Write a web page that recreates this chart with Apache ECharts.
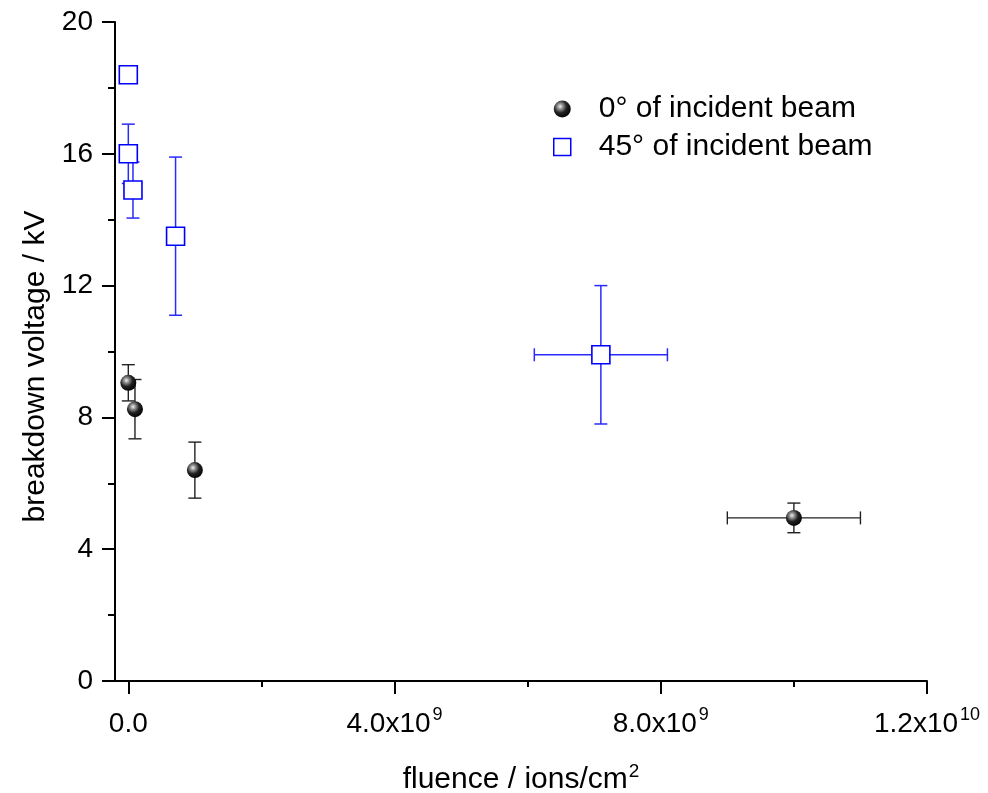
<!DOCTYPE html>
<html>
<head>
<meta charset="utf-8">
<script src="https://cdn.jsdelivr.net/npm/echarts@6/dist/echarts.min.js"></script>
<style>
html,body{margin:0;padding:0;background:#fff;}
#chart{width:988px;height:793px;}
</style>
</head>
<body>
<div id="chart"></div>
<script>
// ---- data ----
const seriesNames = ['0° of incident beam', '45° of incident beam'];
const x0 = [0, 1e8, 1e9, 1e10];
const y0 = [9.05, 8.25, 6.4, 4.95];
const xErr0 = [0, 0, 0, 1e9];
const yErr0 = [0.55, 0.9, 0.85, 0.45];
const x45 = [0, 0, 7e7, 7.1e8, 7.1e9];
const y45 = [18.4, 16.0, 14.9, 13.5, 9.9];
const xErr45 = [0, 0, 0, 0, 1e9];
const yErr45 = [0, 0.9, 0.85, 2.4, 2.1];
const xMajorTicks = [0, 4e9, 8e9, 1.2e10];
const xMinorTicks = [2e9, 6e9, 1e10];
const xName = '{b|fluence / ions/cm}{sup|2}';
const yName = 'breakdown voltage / kV';

const FONT = 'Liberation Sans, Arial, sans-serif';
const FS = 28;     // tick labels
const FT = 30;     // titles & legend
const BLUE = '#0000ff';

function fmtX(v) {
  if (v === 0) return '{b|0.0}';
  const e = Math.floor(Math.log10(v) + 1e-9);
  const m = v / Math.pow(10, e);
  return '{b|' + m.toFixed(1) + 'x10}{sup|' + e + '}';
}

function errData(xs, ys, xe, ye) {
  return xs.map((x, i) => [x, ys[i], x - xe[i], x + xe[i], ys[i] - ye[i], ys[i] + ye[i]]);
}

function makeErrRender(color, width) {
  return function (params, api) {
    const x = api.value(0), y = api.value(1);
    const xlo = api.value(2), xhi = api.value(3), ylo = api.value(4), yhi = api.value(5);
    const c = api.coord([x, y]);
    const children = [];
    const cap = 6.5;
    const style = { stroke: color, lineWidth: width, fill: null };
    if (yhi > ylo) {
      const pt = api.coord([x, yhi]), pb = api.coord([x, ylo]);
      children.push({ type: 'line', shape: { x1: c[0], y1: pt[1], x2: c[0], y2: pb[1] }, style });
      children.push({ type: 'line', shape: { x1: c[0] - cap, y1: pt[1], x2: c[0] + cap, y2: pt[1] }, style });
      children.push({ type: 'line', shape: { x1: c[0] - cap, y1: pb[1], x2: c[0] + cap, y2: pb[1] }, style });
    }
    if (xhi > xlo) {
      const pl = api.coord([xlo, y]), pr = api.coord([xhi, y]);
      children.push({ type: 'line', shape: { x1: pl[0], y1: c[1], x2: pr[0], y2: c[1] }, style });
      children.push({ type: 'line', shape: { x1: pl[0], y1: c[1] - cap, x2: pl[0], y2: c[1] + cap }, style });
      children.push({ type: 'line', shape: { x1: pr[0], y1: c[1] - cap, x2: pr[0], y2: c[1] + cap }, style });
    }
    return { type: 'group', children };
  };
}

const sphere = {
  type: 'radial', x: 0.38, y: 0.35, r: 0.7,
  colorStops: [
    { offset: 0, color: '#f0f0f0' },
    { offset: 0.25, color: '#8a8a8a' },
    { offset: 0.55, color: '#222' },
    { offset: 1, color: '#000' }
  ]
};

const chart = echarts.init(document.getElementById('chart'), null, { renderer: 'canvas' });
chart.setOption({
  backgroundColor: '#fff',
  animation: false,
  textStyle: { fontFamily: FONT },
  grid: { left: 115, right: 61, top: 22, bottom: 112, containLabel: false, outerBoundsMode: 'none' },
  legend: {
    orient: 'vertical', left: 548, top: 89, itemGap: 8,
    itemWidth: 17, itemHeight: 17,
    textStyle: { fontSize: FT, lineHeight: 30, color: '#000', fontFamily: FONT, padding: [0, 0, 0, 23] },
    data: [
      { name: seriesNames[0], icon: 'circle', itemStyle: { color: sphere } },
      { name: seriesNames[1], icon: 'rect', itemStyle: { color: '#fff', borderColor: BLUE, borderWidth: 1.5 } }
    ]
  },
  xAxis: [{
    type: 'value', min: -2e8, max: 1.2e10,
    splitLine: { show: false },
    axisLine: { show: true, onZero: false, lineStyle: { color: '#000', width: 2 } },
    axisTick: { show: true, customValues: xMajorTicks, length: 13, lineStyle: { color: '#000', width: 2 } },
    axisLabel: { show: true, customValues: xMajorTicks, formatter: fmtX, margin: 21, color: '#000',
      rich: {
        b: { fontSize: FS, fontFamily: FONT, color: '#000', lineHeight: 36, verticalAlign: 'bottom' },
        sup: { fontSize: 18, fontFamily: FONT, color: '#000', lineHeight: 16, verticalAlign: 'top', padding: [4, 0, 0, 2] }
      } },
    name: xName, nameLocation: 'middle', nameGap: 78,
    nameTextStyle: { color: '#000',
      rich: {
        b: { fontSize: FT, fontFamily: FONT, color: '#000', lineHeight: 36, verticalAlign: 'bottom' },
        sup: { fontSize: 19, fontFamily: FONT, color: '#000', verticalAlign: 'top', lineHeight: 16, padding: [3, 0, 0, 1] }
      } }
  }, {
    type: 'value', min: -2e8, max: 1.2e10, position: 'bottom',
    splitLine: { show: false },
    axisLine: { show: false, onZero: false },
    axisTick: { show: true, customValues: xMinorTicks, length: 6, lineStyle: { color: '#000', width: 2 } },
    axisLabel: { show: false }
  }],
  yAxis: {
    type: 'value', min: 0, max: 20, interval: 4,
    splitLine: { show: false },
    axisLine: { show: true, onZero: false, lineStyle: { color: '#000', width: 2 } },
    axisTick: { show: true, length: 13, lineStyle: { color: '#000', width: 2 } },
    minorTick: { show: true, splitNumber: 2, length: 7, lineStyle: { color: '#000', width: 2 } },
    axisLabel: { fontSize: FS, color: '#000', margin: 22, fontFamily: FONT },
    name: yName, nameLocation: 'middle', nameGap: 62, nameRotate: 90,
    nameTextStyle: { fontSize: FT, color: '#000', fontFamily: FONT, padding: [0, 30, 0, 0] }
  },
  series: [
    {
      name: seriesNames[0] + ' err', type: 'custom', xAxisIndex: 0, z: 2,
      renderItem: makeErrRender('#222', 1.4),
      data: errData(x0, y0, xErr0, yErr0), silent: true
    },
    {
      name: seriesNames[1] + ' err', type: 'custom', xAxisIndex: 0, z: 2,
      renderItem: makeErrRender('#2a2aff', 1.5),
      data: errData(x45, y45, xErr45, yErr45), silent: true
    },
    {
      name: seriesNames[1], type: 'scatter', xAxisIndex: 0, z: 3,
      symbol: 'rect', symbolSize: 18,
      itemStyle: { color: '#fff', borderColor: BLUE, borderWidth: 1.6, opacity: 1 },
      data: x45.map((x, i) => [x, y45[i]])
    },
    {
      name: seriesNames[0], type: 'scatter', xAxisIndex: 0, z: 4,
      symbol: 'circle', symbolSize: 16,
      itemStyle: { color: sphere, opacity: 1 },
      data: x0.map((x, i) => [x, y0[i]])
    }
  ]
});
</script>
</body>
</html>
